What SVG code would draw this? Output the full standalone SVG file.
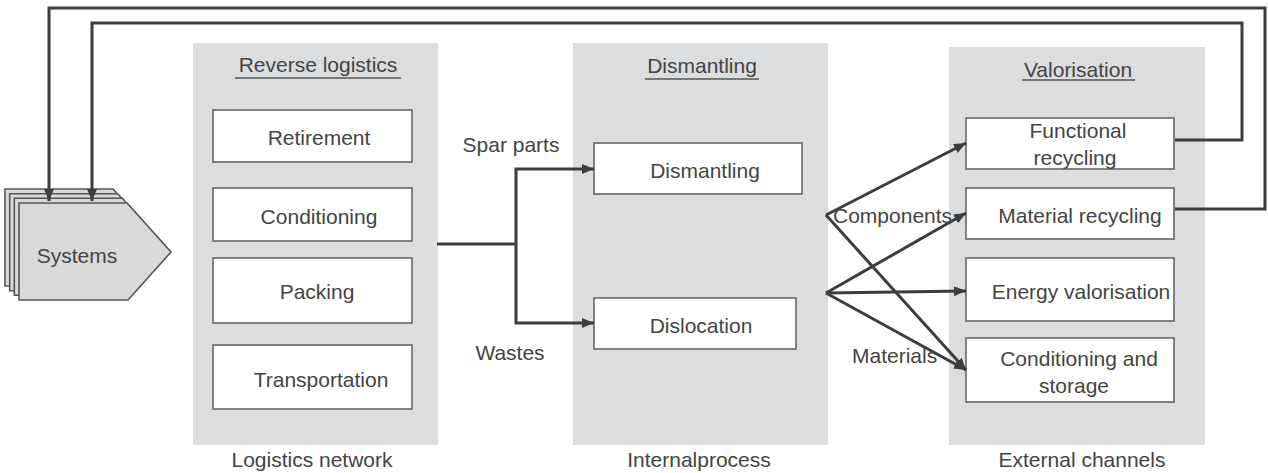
<svg xmlns="http://www.w3.org/2000/svg" width="1268" height="473" viewBox="0 0 1268 473">
<style>
text{font-family:"Liberation Sans",Arial,sans-serif;font-size:21px;fill:#444;}
.m{text-anchor:middle;}
.panel{fill:#dcdddf;stroke:none;}
.box{fill:#fff;stroke:#666;stroke-width:1.6;}
.sys{fill:#d9d9d9;stroke:#555;stroke-width:1.6;}
.conn{fill:none;stroke:#3d3d3d;stroke-width:3;}
.ul{stroke:#555;stroke-width:1.4;}
</style>
<defs>
<marker id="ah" viewBox="0 0 12 10" refX="12" refY="5" markerWidth="12" markerHeight="10" markerUnits="userSpaceOnUse" orient="auto">
<path d="M0,0 L12,5 L0,10 z" fill="#3d3d3d"/>
</marker>
</defs>
<rect width="1268" height="473" fill="#fff"/>

<g id="panel-logistics">
<rect class="panel" x="193" y="43" width="245" height="402"/>
<text class="m" x="318" y="72">Reverse logistics</text>
<line class="ul" x1="235" y1="78" x2="401" y2="78"/>
<text class="m" x="312" y="467">Logistics network</text>
</g>
<g id="panel-dismantling">
<rect class="panel" x="573" y="43" width="255" height="402"/>
<text class="m" x="702" y="73">Dismantling</text>
<line class="ul" x1="645" y1="79" x2="759" y2="79"/>
<text class="m" x="699" y="467">Internalprocess</text>
</g>
<g id="panel-valorisation">
<rect class="panel" x="949" y="47" width="256" height="398"/>
<text class="m" x="1078" y="77">Valorisation</text>
<line class="ul" x1="1022" y1="80" x2="1135" y2="80"/>
<text class="m" x="1082" y="467">External channels</text>
</g>

<g id="systems">
<path class="sys" d="M5,189 H113 L157,238 L114,286 H5 Z"/>
<path class="sys" d="M9.7,193.7 H117.7 L161.7,242.7 L118.7,290.7 H9.7 Z"/>
<path class="sys" d="M14.3,198.3 H122.3 L166.3,247.3 L123.3,295.3 H14.3 Z"/>
<path class="sys" d="M19,203 H127 L171,252 L128,300 H19 Z"/>
<text class="m" x="77" y="263">Systems</text>
</g>

<g id="retirement"><rect class="box" x="213" y="110" width="199" height="52"/><text class="m" x="319" y="145">Retirement</text></g>
<g id="conditioning"><rect class="box" x="213" y="188" width="199" height="53"/><text class="m" x="319" y="224">Conditioning</text></g>
<g id="packing"><rect class="box" x="213" y="258" width="199" height="65"/><text class="m" x="317" y="299">Packing</text></g>
<g id="transportation"><rect class="box" x="213" y="345" width="199" height="64"/><text class="m" x="321" y="387">Transportation</text></g>

<g id="dismantling"><rect class="box" x="594" y="143" width="208" height="51"/><text class="m" x="705" y="178">Dismantling</text></g>
<g id="dislocation"><rect class="box" x="594" y="298" width="202" height="51"/><text class="m" x="701" y="333">Dislocation</text></g>

<g id="functional-recycling"><rect class="box" x="966" y="118" width="208" height="51"/><text class="m" x="1078" y="138">Functional</text><text class="m" x="1075" y="165">recycling</text></g>
<g id="material-recycling"><rect class="box" x="966" y="188" width="208" height="51"/><text class="m" x="1080" y="223">Material recycling</text></g>
<g id="energy-valorisation"><rect class="box" x="966" y="258" width="208" height="63"/><text class="m" x="1081" y="299">Energy valorisation</text></g>
<g id="conditioning-storage"><rect class="box" x="966" y="338" width="208" height="64"/><text class="m" x="1079" y="366">Conditioning and</text><text class="m" x="1074" y="393">storage</text></g>

<g id="connectors">
<path class="conn" d="M437,244 H516"/>
<path class="conn" d="M516,244 V169 H594" marker-end="url(#ah)"/>
<path class="conn" d="M516,244 V323 H594" marker-end="url(#ah)"/>
<path class="conn" d="M826,215 L966,143" marker-end="url(#ah)"/>
<path class="conn" d="M826,215 L966,370" marker-end="url(#ah)"/>
<path class="conn" d="M826,293 L966,213" marker-end="url(#ah)"/>
<path class="conn" d="M826,293 L966,291" marker-end="url(#ah)"/>
<path class="conn" d="M826,293 L966,370" marker-end="url(#ah)"/>
<path class="conn" d="M1175,140 H1242 V23 H92 V201" marker-end="url(#ah)"/>
<path class="conn" d="M1175,209 H1265 V8 H49 V201" marker-end="url(#ah)"/>
</g>

<g id="labels">
<text class="m" x="511" y="152">Spar parts</text>
<text class="m" x="510" y="360">Wastes</text>
<text x="833" y="223">Components</text>
<text x="852" y="363">Materials</text>
</g>
</svg>
